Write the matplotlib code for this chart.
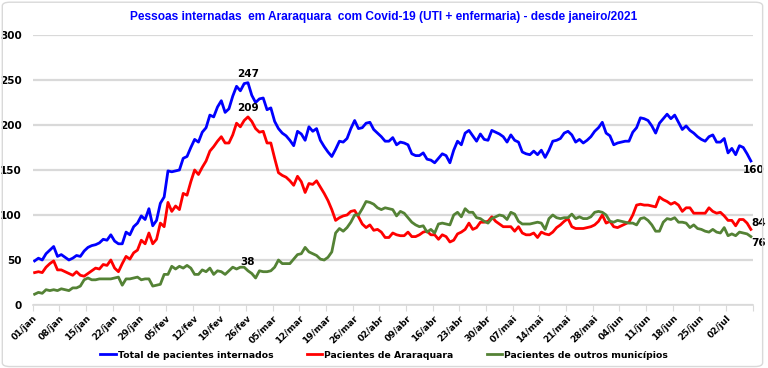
import numpy as np
import pandas as pd
import matplotlib
matplotlib.use("Agg")
import matplotlib.pyplot as plt
from matplotlib.patches import FancyBboxPatch

# daily values, 01/jan/2021 onwards (189 days)
total = [
    49, 52, 50, 57, 61, 65, 54, 56, 53, 50,
    52, 55, 54, 60, 64, 66, 67, 69, 73, 72,
    78, 71, 68, 68, 81, 78, 87, 91, 99, 95,
    107, 88, 94, 113, 120, 149,
    148, 149, 150, 163, 165, 175, 184, 181, 192, 197,
    211, 209, 220, 227, 214, 218, 232, 243, 238, 246,
    247, 233, 225, 229, 230, 217, 219, 204, 196, 191,
    188, 183, 177, 193, 190, 183, 198, 193, 196, 183,
    176, 170, 165, 173, 182, 181, 185, 196, 205, 196,
    197, 202, 203, 195, 191, 187, 182, 182, 186, 178,
    181, 180, 178, 168, 166, 166, 169, 162, 161, 158,
    163, 168, 166, 158, 172, 182, 178, 191, 194, 188,
    182, 190, 184, 183, 194, 192, 190, 187, 181, 189,
    183, 181, 170, 168, 167, 171, 167, 172, 164, 172,
    182, 183, 185, 191, 193, 189, 181, 184, 180, 183,
    187, 193, 197, 203, 191, 188, 178, 180, 181, 182,
    182, 192, 197, 208, 207, 205, 199, 191, 202, 207,
    212, 207, 211, 203, 195, 199, 194, 191, 187, 184,
    182, 187, 189, 181, 181, 185, 169, 174, 167, 177,
    175, 168, 160,
]
araraquara = [
    36, 37, 36, 42, 46, 49, 39, 39, 37, 35,
    33, 37, 33, 32, 35, 38, 41, 40, 45, 44,
    50, 41, 37, 46, 54, 51, 58, 61, 72, 68,
    80, 68, 73, 91, 87, 114, 104, 110, 106, 124,
    122, 137, 150, 145,
    153, 160, 171, 176, 182, 187, 180, 180, 189, 202,
    198, 205, 209, 204, 196, 192, 193, 180, 180, 163,
    147, 144, 142, 138, 133, 143, 137, 125, 135, 134,
    138, 131, 124,
    116, 106, 94, 97, 99, 100, 104, 105, 98, 90,
    86, 89, 83, 84, 81, 75, 75, 80, 78, 77,
    77, 81, 76, 76, 78, 81, 82, 78, 78, 73,
    78, 76, 70, 72, 79, 81, 84, 91,
    84, 86, 92, 92, 93, 98, 93, 90, 87, 87,
    87, 82, 87, 80, 78, 78, 80, 75, 81, 79,
    78, 81, 86, 89, 93, 96, 87, 85, 85, 85,
    86, 87, 89, 93, 100, 91, 93, 87,
    86, 88, 90, 92, 100, 111, 112, 111, 111, 110,
    109, 120, 117, 115, 112, 114, 111, 104, 108, 108,
    102, 102, 102, 102, 108, 104, 102, 103, 99, 94,
    94, 88, 95, 95, 91, 84,
]
outros = [
    12, 14, 13, 17, 16, 17, 16, 18, 17, 16,
    19, 19, 21, 28, 30, 28, 28, 29, 29, 29,
    29, 30, 31, 22, 29, 29, 30, 31, 28, 29,
    29, 21, 22, 23, 34, 34, 43, 40, 43, 41,
    44, 41, 34, 34, 39, 37, 41, 34, 38, 37,
    34, 38, 42, 40, 42, 42, 38, 35, 30, 38,
    37, 37, 38, 42, 50, 46, 46, 46, 51, 56,
    57, 64, 59, 57, 55, 51, 50, 53, 59, 80,
    85, 82, 86, 92, 100, 100, 107, 115, 114, 112,
    108, 106, 108, 107, 106, 99, 104, 102, 97, 92,
    89, 87, 88, 81, 84, 80, 90, 91, 90, 89,
    100, 103, 98, 107, 103,
    103, 97, 96, 93, 91, 96, 98, 100, 99, 95,
    103, 101, 93, 90, 90, 90, 91, 92, 91, 84,
    96, 100, 97, 96, 97, 97, 101, 96, 98, 96,
    96, 98, 103, 104, 103, 100, 93, 92,
    94, 93, 92, 91, 91, 89, 96, 97, 94, 89,
    82, 82, 92, 96, 95, 97, 92, 92, 91, 86,
    89, 85, 84, 82, 81, 84, 81, 80, 86, 77,
    79, 77, 81, 80, 79, 76,
]
meses = ["jan", "fev", "mar", "abr", "mai", "jun", "jul"]
series_names = ["Total de pacientes internados", "Pacientes de Araraquara",
                "Pacientes de outros municípios"]
colors = ["#0000ff", "#ff0000", "#548235"]

dates = pd.date_range("2021-01-01", periods=len(total), freq="D")
x = np.arange(len(total))
peak = int(np.argmax(total))

fig = plt.figure(figsize=(7.68, 3.68), dpi=100)
ax = fig.add_axes([0.0426, 0.1712, 0.9376, 0.7337])

for vals, c, name in zip([total, araraquara, outros], colors, series_names):
    ax.plot(x, vals, color=c, lw=2, label=name, solid_joinstyle="round")

lab = dict(fontsize=7.5, fontweight="bold", color="black")
for vals in [total, araraquara, outros]:
    ax.annotate(str(vals[peak]), (x[peak], vals[peak]), xytext=(0, 3),
                textcoords="offset points", ha="center", va="bottom", **lab)
ax.annotate(str(total[-1]), (x[-1], total[-1]), xytext=(2, -3),
            textcoords="offset points", ha="center", va="top", **lab)
ax.annotate(str(araraquara[-1]), (x[-1], araraquara[-1]), xytext=(0, 1),
            textcoords="offset points", ha="left", va="bottom", **lab)
ax.annotate(str(outros[-1]), (x[-1], outros[-1]), xytext=(0, -1),
            textcoords="offset points", ha="left", va="top", **lab)

ax.set_xlim(-0.5, len(total) - 0.5)
ax.set_ylim(0, 300)
ax.set_yticks(range(0, 301, 50))
ax.yaxis.grid(True, color="#d9d9d9", lw=1.6)
ax.set_axisbelow(True)
for s in ["top", "right", "left"]:
    ax.spines[s].set_visible(False)
ax.spines["bottom"].set_color("#d9d9d9")
ax.spines["bottom"].set_linewidth(1.2)
ax.tick_params(axis="y", length=0, pad=8, labelsize=7.5)

ticks = np.arange(-0.5, len(total), 7)
labels = [f"{d.day:02d}/{meses[d.month - 1]}" for d in dates[::7]]
labels = labels + [""] * (len(ticks) - len(labels))
ax.set_xticks(ticks)
ax.set_xticklabels(labels, rotation=45, ha="right", rotation_mode="anchor",
                   fontsize=6.5, fontweight="bold")
ax.tick_params(axis="x", length=4, color="#d9d9d9", pad=2)
for t in ax.get_yticklabels():
    t.set_fontweight("bold")

fig.suptitle("Pessoas internadas  em Araraquara  com Covid-19 (UTI + enfermaria) - desde janeiro/2021",
             x=0.5, y=0.97, va="top", color="#0000ff", fontsize=8.6,
             fontweight="bold", family=["Liberation Sans", "DejaVu Sans"])

leg = fig.legend(loc="lower center", bbox_to_anchor=(0.5, 0.0), ncol=3,
                 frameon=False, handlelength=1.7, handletextpad=0.15,
                 columnspacing=3.6, prop=dict(size=6.7, weight="bold"))

fig.patches.append(FancyBboxPatch((0.003, 0.004), 0.99, 0.99,
                                  boxstyle="round,pad=0,rounding_size=0.01",
                                  transform=fig.transFigure, fill=False,
                                  ec="#d9d9d9", lw=1))

fig.savefig("out.png", dpi=100)
